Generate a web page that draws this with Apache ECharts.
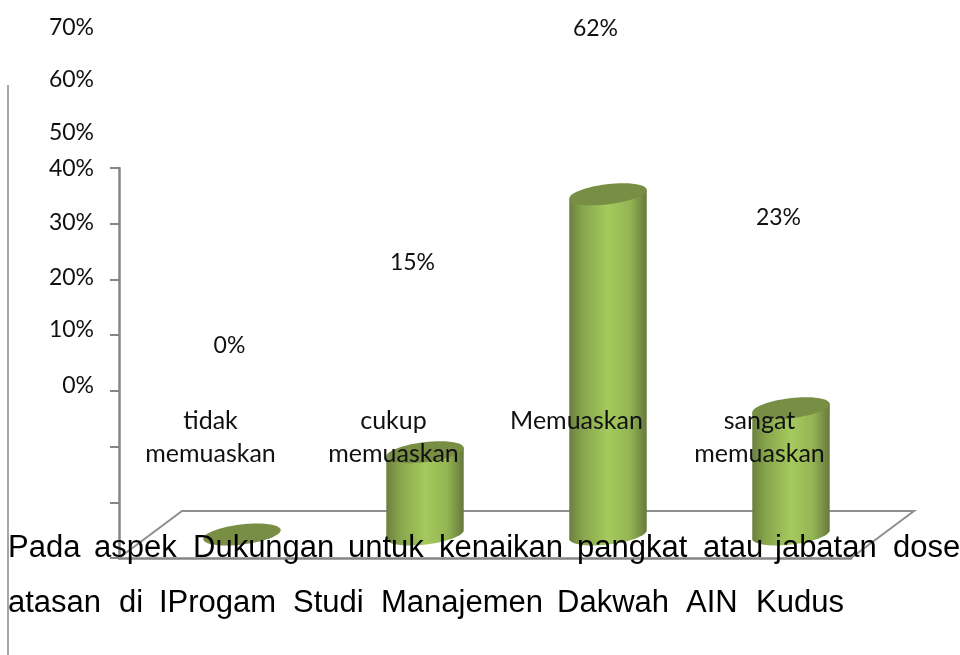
<!DOCTYPE html>
<html>
<head>
<meta charset="utf-8">
<title>Dukungan kenaikan pangkat</title>
<style>
  html, body { margin: 0; padding: 0; background: #fff; }
  #main { width: 960px; height: 655px; }
</style>
<script src="https://cdn.jsdelivr.net/npm/echarts@6/dist/echarts.min.js"></script>
</head>
<body>
<div id="main"></div>
<script>
// data
var categories = ['tidak\nmemuaskan', 'cukup\nmemuaskan', 'Memuaskan', 'sangat\nmemuaskan'];
var values = [0, 15, 62, 23];
var tickLabels = ['70%', '60%', '50%', '40%', '30%', '20%', '10%', '0%'];
var captionLine1 = ['Pada', 'aspek', 'Dukungan', 'untuk', 'kenaikan', 'pangkat', 'atau', 'jabatan', 'dose'];
var captionLine2 = ['atasan', 'di', 'IProgam', 'Studi', 'Manajemen', 'Dakwah', 'AIN', 'Kudus'];

// the tick labels and caption sit away from the axis in the original, so they are placed by hand
var tickLabelY = [28, 80, 133, 169, 223, 278, 330, 386];
var captionX1 = [8, 94, 193, 348, 439, 577, 703, 775, 893];
var captionX2 = [8, 119, 159, 293, 381, 557, 686, 756];

var labelFont = 'Lato, "Noto Sans", sans-serif';
var captionFont = '"Liberation Sans", Arial, sans-serif';
var axisColor = '#868686';
var depthX = 63, depthY = 47;   // floor depth
var labelRise = 212;            // value labels float this far above the bar front

var graphics = [];
// stray rule on the left
graphics.push({ type: 'line', z: 1, shape: { x1: 8, y1: 85, x2: 8, y2: 655 }, style: { stroke: '#a6a6a6', lineWidth: 2 } });
tickLabels.forEach(function (t, i) {
  graphics.push({ type: 'text', z: 10, x: 94, y: tickLabelY[i], style: { text: t, fill: '#111', font: '23px ' + labelFont, textAlign: 'right', textVerticalAlign: 'middle' } });
});
captionLine1.forEach(function (t, i) {
  graphics.push({ type: 'text', z: 10, x: captionX1[i], y: 548, style: { text: t, fill: '#000', font: '31px ' + captionFont, textVerticalAlign: 'middle' } });
});
captionLine2.forEach(function (t, i) {
  graphics.push({ type: 'text', z: 10, x: captionX2[i], y: 603, style: { text: t, fill: '#000', font: '31px ' + captionFont, textVerticalAlign: 'middle' } });
});

function renderFloor(params, api) {
  var c = params.coordSys;
  var b = c.y + c.height;
  return {
    type: 'polyline',
    shape: { points: [[c.x, b], [c.x + depthX, b - depthY], [c.x + c.width + depthX, b - depthY], [c.x + c.width, b]] },
    style: { stroke: '#8f8f8f', lineWidth: 2, fill: null }
  };
}

// point on a tilted ellipse, the left end sits lower than the right one
function ellipsePoint(cx, cy, rx, ry, tilt, t) {
  var x = rx * Math.cos(t), y = ry * Math.sin(t);
  return [cx + x * Math.cos(tilt) + y * Math.sin(tilt), cy - x * Math.sin(tilt) + y * Math.cos(tilt)];
}

function renderCylinder(params, api) {
  var v = api.value(1);
  var front = api.coord([api.value(0), v]);
  var base = api.coord([api.value(0), 0]);
  var cx = base[0] + depthX / 2;
  var baseY = base[1] - depthY / 2;
  // slightly foreshortened, the tops land a little under the axis height
  var topY = baseY - (base[1] - front[1]) * 0.985;
  var rx = 39, ry = 10, tilt = 0.12;
  var side = new echarts.graphic.LinearGradient(0, 0, 1, 0, [
    { offset: 0, color: '#6b8040' },
    { offset: 0.18, color: '#88a64c' },
    { offset: 0.5, color: '#a5ca5e' },
    { offset: 0.78, color: '#94b553' },
    { offset: 1, color: '#66793c' }
  ]);
  var kids = [];
  if (v > 0) {
    var pts = [ellipsePoint(cx, topY, rx, ry, tilt, 0)];
    for (var k = 0; k <= 24; k++) {
      pts.push(ellipsePoint(cx, baseY, rx, ry, tilt, Math.PI * k / 24));
    }
    pts.push(ellipsePoint(cx, topY, rx, ry, tilt, Math.PI));
    kids.push({ type: 'polygon', shape: { points: pts }, style: { fill: side } });
  }
  kids.push({ type: 'ellipse', x: cx, y: topY, rotation: tilt, shape: { cx: 0, cy: 0, rx: rx, ry: ry }, style: { fill: '#788e45' } });
  // value label, pushed back in when it would run off the top
  kids.push({
    type: 'text', z2: 20, x: base[0] + 19, y: Math.max(29, front[1] - labelRise),
    style: { text: v + '%', fill: '#111', font: '23px ' + labelFont, textAlign: 'center', textVerticalAlign: 'middle' }
  });
  return { type: 'group', children: kids };
}

var chart = echarts.init(document.getElementById('main'));
chart.setOption({
  animation: false,
  backgroundColor: '#fff',
  grid: { left: 119, right: 109, top: 168, bottom: 97 },
  xAxis: {
    type: 'category',
    data: categories,
    z: 5,
    axisLine: { lineStyle: { color: axisColor, width: 2.5 } },
    axisTick: { length: 7, lineStyle: { color: axisColor, width: 2 } },
    axisLabel: { interval: 0, margin: -154, color: '#111', fontFamily: labelFont, fontSize: 25, lineHeight: 33 }
  },
  yAxis: {
    type: 'value',
    min: 0,
    max: 70,
    interval: 10,
    splitLine: { show: false },
    axisLine: { show: true, lineStyle: { color: axisColor, width: 2.5 } },
    axisTick: { show: true, length: 9, lineStyle: { color: axisColor, width: 2 } },
    axisLabel: { show: false }
  },
  graphic: graphics,
  series: [
    { type: 'custom', z: 1, silent: true, renderItem: renderFloor, data: [0] },
    { type: 'custom', z: 2, silent: true, renderItem: renderCylinder, encode: { x: 0, y: 1 }, data: categories.map(function (c, i) { return [i, values[i]]; }) }
  ]
});
</script>
</body>
</html>
